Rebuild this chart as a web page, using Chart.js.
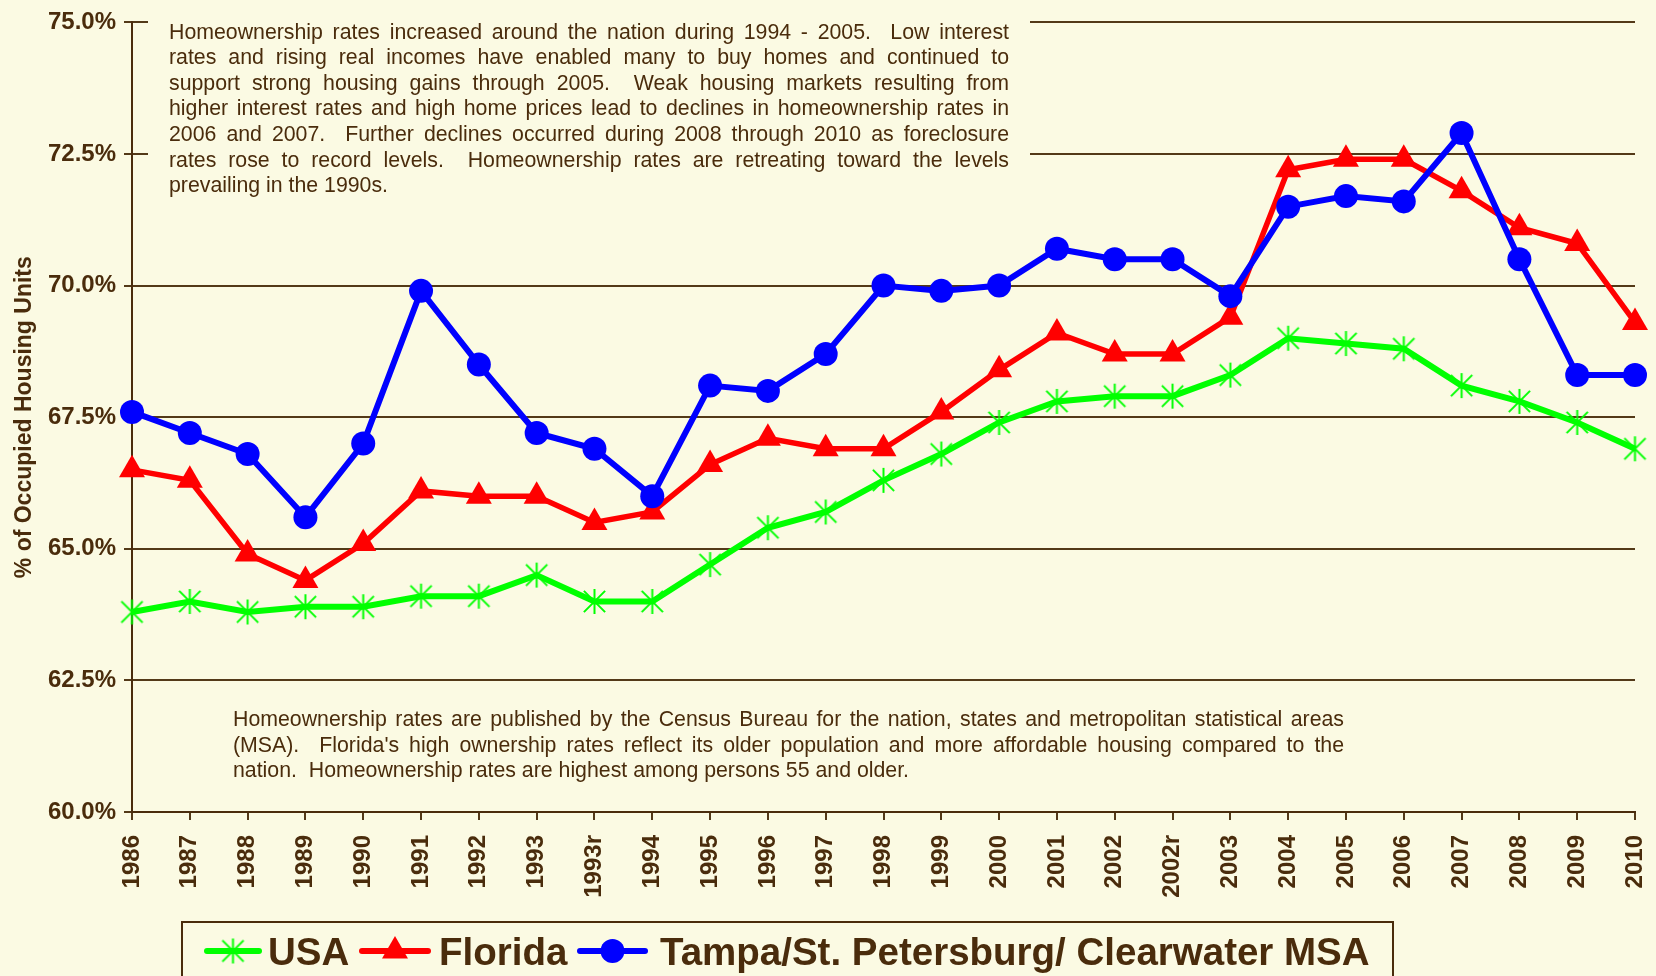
<!DOCTYPE html>
<html lang="en">
<head>
<meta charset="UTF-8">
<title>Homeownership Rates - USA, Florida, Tampa MSA</title>
<script src="https://cdn.jsdelivr.net/npm/chart.js"></script>
<style>
  body { margin: 0; background: #fbfae3; }
  canvas { display: block; }
</style>
</head>
<body>
<canvas id="homeChart" width="1656" height="976"></canvas>
<script>
// --- data ---
const years = ["1986", "1987", "1988", "1989", "1990", "1991", "1992", "1993", "1993r", "1994",
  "1995", "1996", "1997", "1998", "1999", "2000", "2001", "2002", "2002r", "2003",
  "2004", "2005", "2006", "2007", "2008", "2009", "2010"];
const usaRates = [63.8, 64.0, 63.8, 63.9, 63.9, 64.1, 64.1, 64.5, 64.0, 64.0,
  64.7, 65.4, 65.7, 66.3, 66.8, 67.4, 67.8, 67.9, 67.9, 68.3,
  69.0, 68.9, 68.8, 68.1, 67.8, 67.4, 66.9];
const floridaRates = [66.5, 66.3, 64.9, 64.4, 65.1, 66.1, 66.0, 66.0, 65.5, 65.7,
  66.6, 67.1, 66.9, 66.9, 67.6, 68.4, 69.1, 68.7, 68.7, 69.4,
  72.2, 72.4, 72.4, 71.8, 71.1, 70.8, 69.3];
const tampaRates = [67.6, 67.2, 66.8, 65.6, 67.0, 69.9, 68.5, 67.2, 66.9, 66.0,
  68.1, 68.0, 68.7, 70.0, 69.9, 70.0, 70.7, 70.5, 70.5, 69.8,
  71.5, 71.7, 71.6, 72.9, 70.5, 68.3, 68.3];
const yTicks = [60, 62.5, 65, 67.5, 70, 72.5, 75];
const seriesNames = ["USA", "Florida", "Tampa/St. Petersburg/ Clearwater MSA"];

const topNote = [
  "Homeownership rates increased around the nation during 1994 - 2005.  Low interest",
  "rates and rising real incomes have enabled many to buy homes and continued to",
  "support strong housing gains through 2005.  Weak housing markets resulting from",
  "higher interest rates and high home prices lead to declines in homeownership rates in",
  "2006 and 2007.  Further declines occurred during 2008 through 2010 as foreclosure",
  "rates rose to record levels.  Homeownership rates are retreating toward the levels",
  "prevailing in the 1990s."
];
const bottomNote = [
  "Homeownership rates are published by the Census Bureau for the nation, states and metropolitan statistical areas",
  "(MSA).  Florida's high ownership rates reflect its older population and more affordable housing compared to the",
  "nation.  Homeownership rates are highest among persons 55 and older."
];

const bg = "#fbfae3";
const ink = "#4a2c0c";
const gridColor = "#533918";
const green = "#00ff00";
const red = "#ff0000";
const blue = "#0000ff";
const fontFamily = "'Liberation Sans', Arial, sans-serif";

// Excel-style star marker: vertical bar plus an X
function makeStar(size, color) {
  const c = document.createElement("canvas");
  c.width = size;
  c.height = size;
  const g = c.getContext("2d");
  const m = size / 2, r = size / 2 - 1, d = r * 0.85;
  g.strokeStyle = color;
  g.lineWidth = 2;
  g.beginPath();
  g.moveTo(m, m - r); g.lineTo(m, m + r);
  g.moveTo(m - d, m - d); g.lineTo(m + d, m + d);
  g.moveTo(m + d, m - d); g.lineTo(m - d, m + d);
  g.stroke();
  return c;
}
const starImg = makeStar(27, green);

function drawJustified(ctx, lines, left, right, baseline, lineGap) {
  const spaceW = ctx.measureText(" ").width;
  lines.forEach((line, i) => {
    const y = baseline + i * lineGap;
    const words = line.split(" ");
    const gaps = words.length - 1;
    const natural = ctx.measureText(line).width;
    const extra = (i === lines.length - 1 || gaps === 0) ? 0 : (right - left - natural) / gaps;
    let x = left;
    words.forEach(w => {
      if (w) ctx.fillText(w, x, y);
      x += ctx.measureText(w).width + spaceW + extra;
    });
  });
}

// text boxes inside the plot (top one hides the gridlines behind it)
const notes = {
  id: "notes",
  beforeDatasetsDraw(chart) {
    const ctx = chart.ctx;
    ctx.save();
    ctx.fillStyle = bg;
    ctx.fillRect(148, 0, 1030 - 148, 205);
    ctx.fillStyle = ink;
    ctx.font = "21.3px " + fontFamily;
    ctx.textBaseline = "alphabetic";
    drawJustified(ctx, topNote, 169, 1009, 38.5, 25.6);
    drawJustified(ctx, bottomNote, 233, 1344, 726, 25.7);
    ctx.restore();
  }
};

// boxed legend at the bottom
const legendBox = {
  id: "legendBox",
  afterDraw(chart) {
    const ctx = chart.ctx;
    const ds = chart.data.datasets;
    const items = [
      { x0: 207, x1: 259, tx: 268 },
      { x0: 362, x1: 428, tx: 439 },
      { x0: 580, x1: 645, tx: 660 }
    ];
    const ly = 951;
    ctx.save();
    ctx.strokeStyle = ink;
    ctx.lineWidth = 2;
    ctx.strokeRect(182, 922, 1211, 80);
    items.forEach((it, i) => {
      const d = ds[i];
      const cx = (it.x0 + it.x1) / 2;
      ctx.strokeStyle = d.borderColor;
      ctx.lineWidth = 6;
      ctx.lineCap = "round";
      ctx.beginPath();
      ctx.moveTo(it.x0, ly);
      ctx.lineTo(it.x1, ly);
      ctx.stroke();
      ctx.fillStyle = d.borderColor;
      if (d.pointStyle === "circle") {
        ctx.beginPath();
        ctx.arc(cx, ly, d.pointRadius, 0, Math.PI * 2);
        ctx.fill();
      } else if (d.pointStyle === "triangle") {
        const r = d.pointRadius;
        ctx.beginPath();
        ctx.moveTo(cx, ly - r);
        ctx.lineTo(cx + r * 0.866, ly + r / 2);
        ctx.lineTo(cx - r * 0.866, ly + r / 2);
        ctx.closePath();
        ctx.fill();
      } else {
        ctx.drawImage(d.pointStyle, cx - d.pointStyle.width / 2, ly - d.pointStyle.height / 2);
      }
      ctx.fillStyle = ink;
      ctx.font = "bold 38.5px " + fontFamily;
      ctx.textBaseline = "alphabetic";
      ctx.fillText(d.label, it.tx, 965);
    });
    ctx.restore();
  }
};

const ctx = document.getElementById("homeChart").getContext("2d");
new Chart(ctx, {
  type: "line",
  data: {
    labels: years,
    datasets: [
      { label: seriesNames[0], data: usaRates, borderColor: green, backgroundColor: green,
        borderWidth: 6, pointStyle: starImg, pointRadius: 13, order: 3, clip: false, tension: 0 },
      { label: seriesNames[1], data: floridaRates, borderColor: red, backgroundColor: red,
        borderWidth: 5.5, pointStyle: "triangle", pointRadius: 15, pointBorderWidth: 0,
        order: 2, clip: false, tension: 0 },
      { label: seriesNames[2], data: tampaRates, borderColor: blue, backgroundColor: blue,
        borderWidth: 6, pointStyle: "circle", pointRadius: 12, pointBorderWidth: 0,
        order: 1, clip: false, tension: 0 }
    ]
  },
  options: {
    responsive: false,
    animation: false,
    devicePixelRatio: 1,
    layout: { padding: { top: 19, right: 21, left: 0, bottom: 0 } },
    plugins: { legend: { display: false }, tooltip: { enabled: false } },
    scales: {
      x: {
        grid: { drawOnChartArea: false, drawTicks: true, tickLength: 8, color: gridColor, lineWidth: 2 },
        border: { color: ink, width: 2 },
        ticks: { color: ink, font: { family: fontFamily, size: 24, weight: "bold" },
          minRotation: 90, maxRotation: 90, padding: 15, autoSkip: false },
        afterFit: s => { s.height = 164; s.paddingRight = 0; s.paddingLeft = 0; }
      },
      y: {
        min: 60,
        max: 75,
        afterBuildTicks: s => { s.ticks = yTicks.map(v => ({ value: v })); },
        grid: { color: gridColor, lineWidth: 2, tickLength: 8 },
        border: { color: ink, width: 2 },
        ticks: { color: ink, font: { family: fontFamily, size: 24, weight: "bold" },
          padding: 8, callback: v => v.toFixed(1) + "%" },
        title: { display: true, text: "% of Occupied Housing Units", color: ink,
          font: { family: fontFamily, size: 23, weight: "bold" }, padding: { top: 11, bottom: 0 } },
        afterFit: s => { s.width = 132; }
      }
    }
  },
  plugins: [notes, legendBox]
});
</script>
</body>
</html>
